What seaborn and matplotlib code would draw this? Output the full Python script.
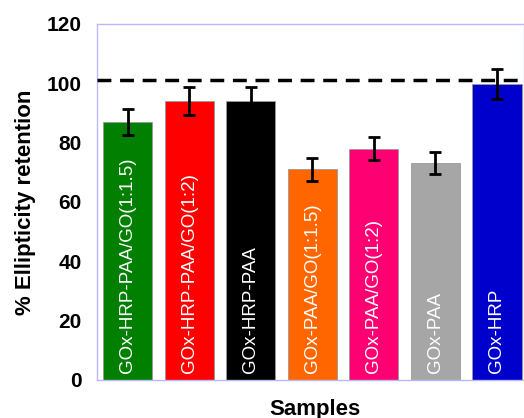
import numpy as np
import pandas as pd
import seaborn as sns
import matplotlib.pyplot as plt

# values
samples = ['GOx-HRP-PAA/GO(1:1.5)', 'GOx-HRP-PAA/GO(1:2)', 'GOx-HRP-PAA',
           'GOx-PAA/GO(1:1.5)', 'GOx-PAA/GO(1:2)', 'GOx-PAA', 'GOx-HRP']
retention = [87, 94, 94, 71, 78, 73, 99.7]
errors = [4.3, 4.7, 4.7, 3.9, 4.0, 3.7, 5.0]
colours = ['#007f00', '#ff0000', '#000000', '#ff6600', '#ff0073', '#a6a6a6', '#0000cc']
reference_level = 101

df = pd.DataFrame({'sample': samples, 'retention': retention})

sns.set_style('white')
plt.rcParams['font.family'] = ['Liberation Sans', 'DejaVu Sans']
plt.rcParams['text.color'] = 'black'
plt.rcParams['ytick.color'] = 'black'
plt.rcParams['axes.labelcolor'] = 'black'

fig = plt.figure(figsize=(5.24, 4.18), dpi=100)
ax = fig.add_axes([0.185, 0.091, 0.815, 0.8516])

sns.barplot(data=df, x='sample', y='retention', hue='sample', palette=colours,
            saturation=1, legend=False, width=0.8, edgecolor='#999999',
            linewidth=0.6, ax=ax)
ax.errorbar(np.arange(len(samples)), retention, yerr=errors, fmt='none',
            ecolor='black', elinewidth=2, capsize=4, capthick=2, zorder=5)

ax.axhline(reference_level, color='black', lw=2.5, ls=(0, (4, 2.5)), zorder=6)

# sample names written inside the bars
for i, name in enumerate(samples):
    ax.text(i, 2.3, name, rotation=90, ha='center', va='bottom',
            color='white', fontsize=13.5)

ax.set_xlim(-0.5, 6.44)
ax.set_ylim(0, 120)
ax.set_yticks(range(0, 121, 20))
ax.set_xticks([])
ax.set_xlabel('')
ax.set_ylabel('% Ellipticity retention', fontsize=16, fontweight='bold', labelpad=8)
ax.text(3.05, -6.5, 'Samples', ha='center', va='top',
        fontsize=16, fontweight='bold')
for lab in ax.get_yticklabels():
    lab.set_fontweight('bold')
    lab.set_fontsize(15)
ax.tick_params(axis='y', length=0, pad=11)
for sp in ax.spines.values():
    sp.set_color('#b8b8ff')
    sp.set_linewidth(1)

fig.savefig('out.png', dpi=100)
